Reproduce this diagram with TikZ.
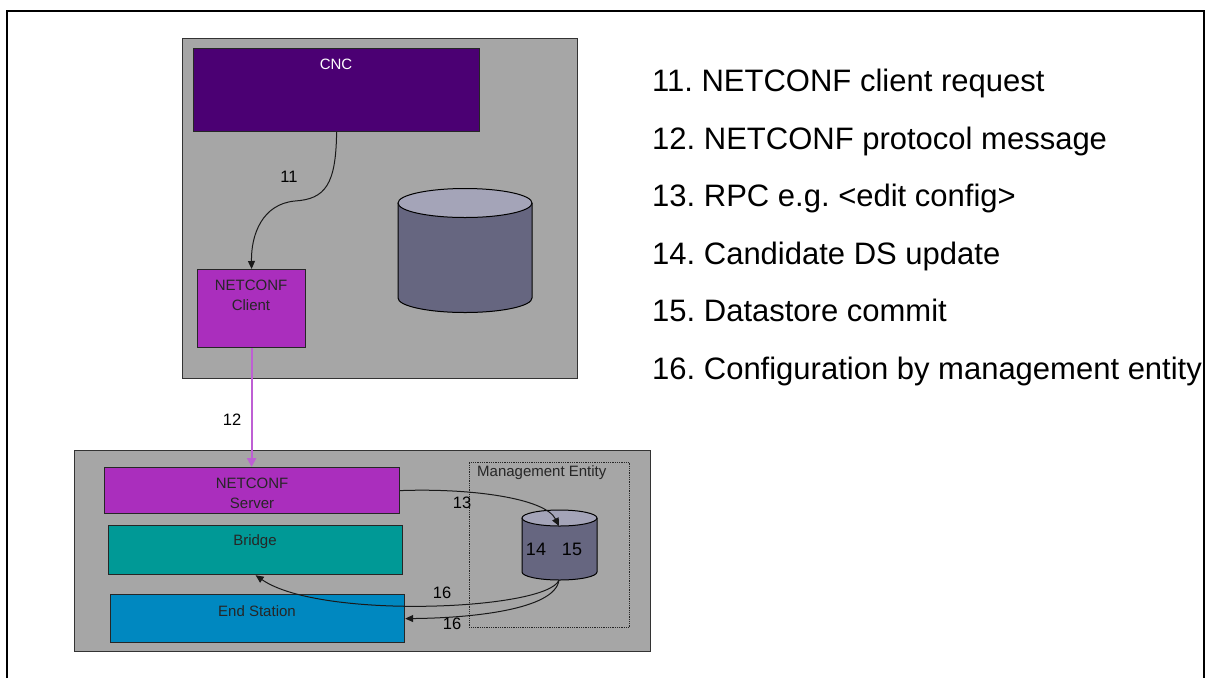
\documentclass[tikz,border=0pt]{standalone}
\usepackage{fontspec}
\setmainfont{Liberation Sans}
\usepackage{xcolor}
\usepackage{tikz}
\usetikzlibrary{arrows.meta,calc}

\definecolor{panelgray}{RGB}{166,166,166}
\definecolor{cncpurple}{RGB}{75,0,115}
\definecolor{ncpurple}{RGB}{170,46,189}
\definecolor{bridgeteal}{RGB}{0,153,150}
\definecolor{stationblue}{RGB}{0,136,192}
\definecolor{dbbody}{RGB}{102,102,128}
\definecolor{dbtop}{RGB}{164,164,184}
\definecolor{msglilac}{RGB}{190,95,212}

\frenchspacing

\begin{document}
\begin{tikzpicture}[x=1pt,y=-1pt,
		panel/.style={draw=black!80,line width=1.2pt,fill=panelgray,inner sep=0pt,anchor=north west},
		block/.style={draw=black!85,line width=1.2pt,inner sep=0pt,anchor=north west},
		boxtext/.style={font=\fontsize{15}{20}\selectfont,text=black!85,align=center,inner sep=0pt},
		steplabel/.style={font=\fontsize{16.5}{20}\selectfont,inner sep=0pt},
		legend/.style={font=\fontsize{31}{36}\selectfont,inner sep=0pt,anchor=base west},
		flow/.style={draw=black!90,line width=1pt,-{Triangle[length=8pt,width=7pt]}},
		msgflow/.style={draw=msglilac,fill=msglilac,line width=2pt,-{Triangle[length=9pt,width=9pt]}}]
		\useasboundingbox (0,0) rectangle (1206,678);
		
		\draw[line width=2pt] (7,678) -- (7,11) -- (1204,11) -- (1204,678);
		
		\node[panel,minimum width=395,minimum height=340] (topbox) at (182,38) {};
		\node[block,fill=cncpurple,minimum width=286,minimum height=83] (cnc) at (193,48) {};
		\node[boxtext,text=white] (cnctext) at (336,64) {CNC};
		\node[block,fill=ncpurple,minimum width=108,minimum height=78] (client) at (197,269) {};
		\node[boxtext] (clienttext) at (251,295) {NETCONF\\Client};
		
		\fill[dbbody] (398,203) rectangle (532,298);
		\fill[dbbody] (465,298) ellipse [x radius=67pt,y radius=14.5pt];
		\draw[line width=1pt] (398,203) -- (398,298) arc [start angle=180,end angle=360,x radius=67pt,y radius=14.5pt] -- (532,203);
		\filldraw[fill=dbtop,line width=1pt] (465,203) ellipse [x radius=67pt,y radius=14.5pt];
		
		\coordinate (bend) at (295,201);
		\draw[flow] (cnc.south) .. controls (336,185) and (325,199) .. (bend) .. controls (262,204) and (251,235) .. (client.north);
		\node[steplabel] (s11) at (289,177) {11};
		
		\node[panel,minimum width=576,minimum height=201] (botbox) at (74,450) {};
		\node[block,fill=ncpurple,minimum width=295,minimum height=46] (server) at (104,467) {};
		\node[boxtext] (servertext) at (252,493) {NETCONF\\Server};
		\node[block,fill=bridgeteal,minimum width=294,minimum height=49] (bridge) at (108,525) {};
		\node[boxtext] (bridgetext) at (255,542) {Bridge};
		\node[block,fill=stationblue,minimum width=294,minimum height=48] (station) at (110,594) {};
		\node[boxtext] (stationtext) at (257,611) {End Station};
		
		\node[draw=black!85,densely dotted,line width=0.8pt,inner sep=0pt,anchor=north west,minimum width=160,minimum height=165] (mgmt) at (469,462) {};
		\node[boxtext,anchor=west] (mgmttext) at (477,473) {Management Entity};
		
		\fill[dbbody] (522,518) rectangle (597,572);
		\fill[dbbody] (559.5,572) ellipse [x radius=37.5pt,y radius=8pt];
		\draw[line width=1pt] (522,518) -- (522,572) arc [start angle=180,end angle=360,x radius=37.5pt,y radius=8pt] -- (597,518);
		\filldraw[fill=dbtop,line width=1pt] (559.5,518) ellipse [x radius=37.5pt,y radius=8pt];
		\coordinate (dbin) at (559,526);
		\coordinate (dbout) at (559,580);
		\node[steplabel,font=\fontsize{18}{20}\selectfont] (s14) at (536,549) {14};
		\node[steplabel,font=\fontsize{18}{20}\selectfont] (s15) at (572,549) {15};
		
		\draw[msgflow] (client.south) -- (client.south |- server.north);
		\node[steplabel] (s12) at (232,420) {12};
		
		\draw[flow] (server.east) .. controls (470,488) and (545,498) .. (dbin);
		\node[steplabel] (s13) at (462,503) {13};
		
		\draw[flow] (dbout) .. controls (548,610) and (320,620) .. (bridge.south);
		\node[steplabel] (s16a) at (442,593) {16};
		\draw[flow] (dbout) .. controls (555,610) and (470,618) .. (station.east);
		\node[steplabel] (s16b) at (452,624) {16};
		
		\node[legend] (l11) at (652,91) {11. NETCONF client request};
		\node[legend] (l12) at (652,149) {12. NETCONF protocol message};
		\node[legend] (l13) at (652,206) {13. RPC e.g. <edit config>};
		\node[legend] (l14) at (652,264) {14. Candidate DS update};
		\node[legend] (l15) at (652,321) {15. Datastore commit};
		\node[legend] (l16) at (652,379) {16. Configuration by management entity};
\end{tikzpicture}
\end{document}
